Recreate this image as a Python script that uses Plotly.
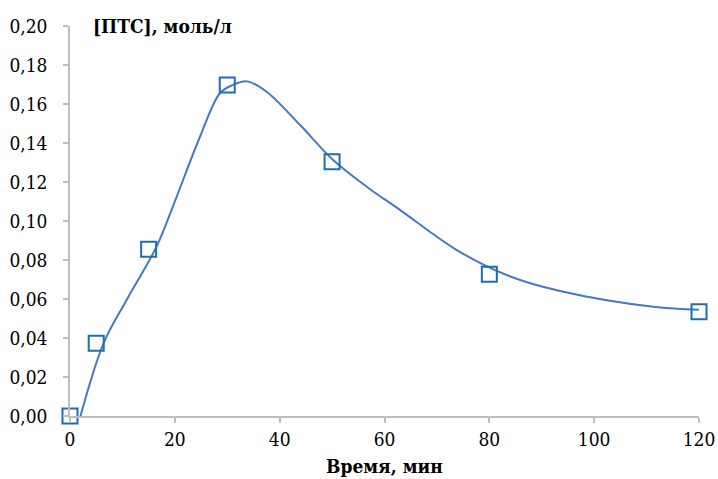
import plotly.graph_objects as go

# Measured points
time_min = [0, 5, 15, 30, 50, 80, 120]
pts_conc = [0.0, 0.0373, 0.0855, 0.1697, 0.1304, 0.0727, 0.0535]

# Smoothed curve
curve_x = [2.0, 6.4, 10.8, 16.5, 20.0, 24.8, 28.6, 31.0, 33.8, 37.5, 43.9,
           50.2, 56.6, 63.0, 73.8, 83.3, 93.5, 111.3, 120]
curve_y = [0.0, 0.0373, 0.0595, 0.0868, 0.110, 0.1432, 0.1655, 0.1697, 0.1716,
           0.1663, 0.1492, 0.1313, 0.1176, 0.1056, 0.0851, 0.0723, 0.0641, 0.056, 0.0545]

y_ticks = [0.0, 0.02, 0.04, 0.06, 0.08, 0.10, 0.12, 0.14, 0.16, 0.18, 0.20]
y_tick_text = ["0,00", "0,02", "0,04", "0,06", "0,08", "0,10", "0,12", "0,14", "0,16", "0,18", "0,20"]
x_ticks = [0, 20, 40, 60, 80, 100, 120]

FONT = "DejaVu Serif Condensed, DejaVu Serif"

fig = go.Figure()
fig.add_trace(go.Scatter(
    x=curve_x, y=curve_y, mode="lines",
    line=dict(color="#4679c0", width=2, shape="spline", smoothing=1.0),
    hoverinfo="skip", showlegend=False,
))
fig.add_trace(go.Scatter(
    x=time_min, y=pts_conc, mode="markers",
    marker=dict(symbol="square-open", size=15, color="#1b6db5", line=dict(width=2, color="#1b6db5")),
    cliponaxis=False, showlegend=False,
))

axis_common = dict(
    showgrid=False, zeroline=False, showline=True, linecolor="#bfbfbf", linewidth=1.5,
    ticks="outside", ticklen=5, tickcolor="#bfbfbf", tickwidth=1.5, automargin=False,
    tickfont=dict(family=FONT, size=19, color="black"),
)

fig.update_layout(
    width=718, height=479,
    margin=dict(l=70, r=19, t=26, b=63),
    plot_bgcolor="white", paper_bgcolor="white",
    font=dict(family=FONT, color="black"),
    xaxis=dict(range=[0, 120], tickvals=x_ticks, ticklabelstandoff=0, **axis_common),
    yaxis=dict(range=[0, 0.20], tickvals=y_ticks, ticktext=y_tick_text, ticklabelstandoff=12, **axis_common),
    annotations=[
        dict(text="<b>Время, мин</b>", xref="paper", yref="paper", x=0.5, y=-0.127,
             xanchor="center", yanchor="middle", showarrow=False,
             font=dict(family=FONT, size=19, color="black")),
        dict(text="<b>[ПТС], моль/л</b>", xref="paper", yref="paper", x=0.033, y=1.0,
             xanchor="left", yanchor="middle", showarrow=False,
             font=dict(family=FONT, size=19, color="black")),
    ],
)

fig.write_html("out.html")
